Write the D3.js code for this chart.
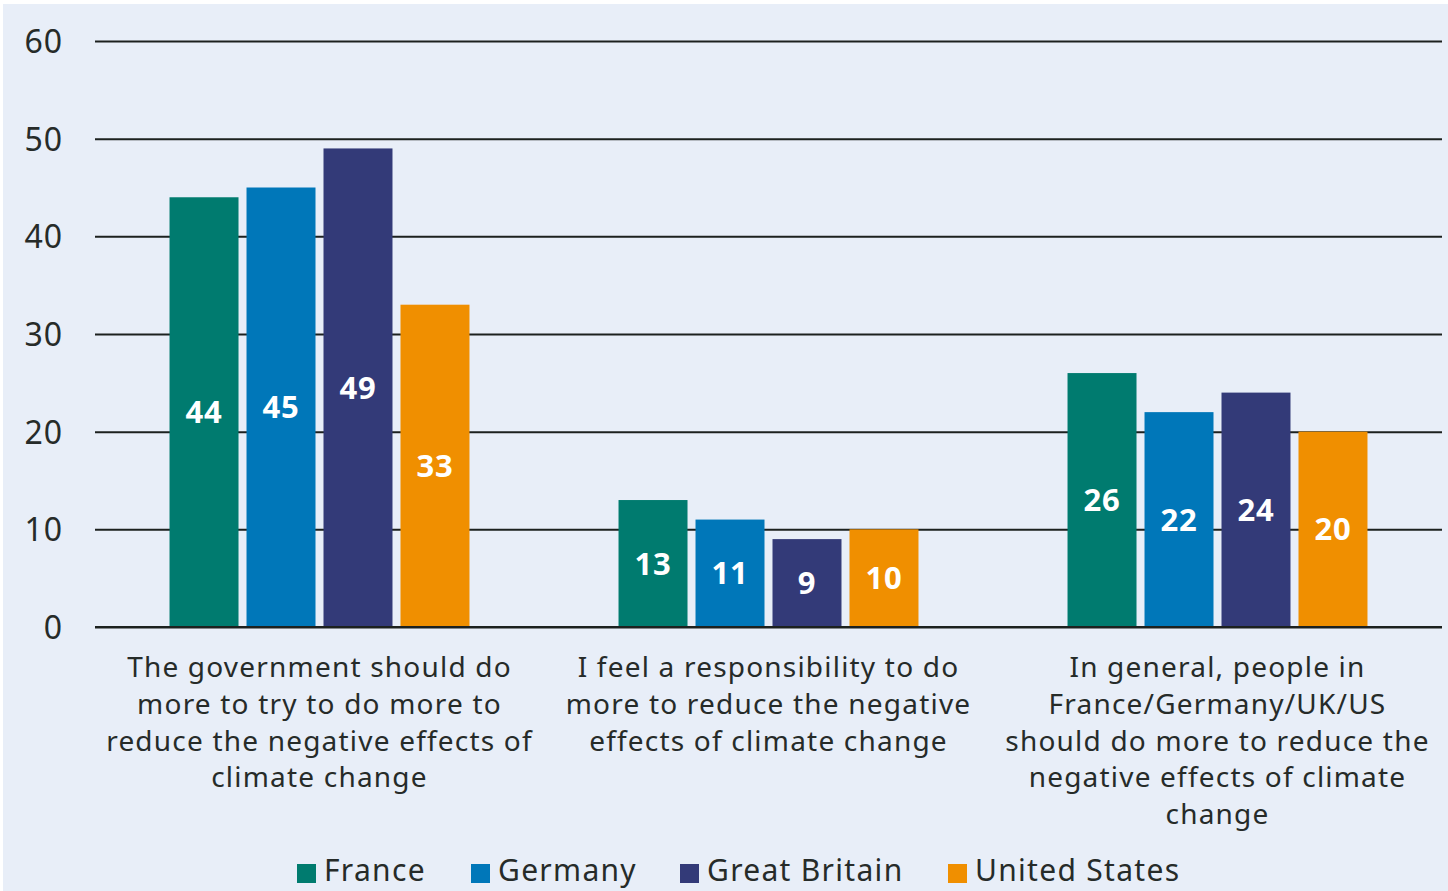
<!DOCTYPE html>
<html>
<head>
<meta charset="utf-8">
<script src="https://cdn.jsdelivr.net/npm/d3@7"></script>
<style>
  html, body { margin: 0; padding: 0; background: #ffffff; }
  svg { display: block; }
</style>
</head>
<body>
<svg id="chart" width="1448" height="891"></svg>
<script>
// Statements shown along the x axis (each entry is a list of wrapped lines)
const categories = [
  ["The government should do", "more to try to do more to", "reduce the negative effects of", "climate change"],
  ["I feel a responsibility to do", "more to reduce the negative", "effects of climate change"],
  ["In general, people in", "France/Germany/UK/US", "should do more to reduce the", "negative effects of climate", "change"]
];
const countries = ["France", "Germany", "Great Britain", "United States"];
const france       = [44, 13, 26];
const germany      = [45, 11, 22];
const greatBritain = [49, 9, 24];
const unitedStates = [33, 10, 20];
const yTicks = [0, 10, 20, 30, 40, 50, 60];
const colors = ["#007b6f", "#0077b9", "#333a78", "#f08f00"];

(function draw() {
  const seriesValues = [france, germany, greatBritain, unitedStates];
  const rows = categories.map((c, i) => ({
    idx: i,
    values: countries.map((k, j) => ({ country: k, j, value: seriesValues[j][i] }))
  }));

  const W = 1448, H = 891;
  const svg = d3.select("#chart");
  const FONT = "'Noto Sans', sans-serif";
  const INK = "#262b29";

  // panel background
  svg.append("rect").attr("x", 3).attr("y", 4).attr("width", W - 3).attr("height", H - 4)
    .attr("fill", "#e8eef8");

  const mLeft = 95, mRight = 1442, mTop = 41, mBottom = 627;

  const x0 = d3.scaleBand().domain(rows.map(r => r.idx)).range([mLeft, mRight]).padding(0);
  const x1 = d3.scaleBand().domain(d3.range(countries.length))
    .range([0, x0.bandwidth()]).paddingInner(0.104).paddingOuter(0.968);
  const y = d3.scaleLinear().domain([0, 60]).range([mBottom, mTop]);

  // gridlines and tick labels
  const yAxis = d3.axisLeft(y).tickValues(yTicks).tickSize(0).tickFormat(d3.format("d"));
  const gy = svg.append("g").attr("transform", `translate(${mLeft},0)`).call(yAxis);
  gy.select(".domain").remove();
  gy.selectAll(".tick line").attr("stroke", "#1c211f").attr("stroke-width", 2)
    .attr("x1", 0).attr("x2", mRight - mLeft);
  gy.selectAll(".tick text").attr("font-family", FONT).attr("font-size", 32)
    .attr("letter-spacing", 1)
    .attr("fill", INK).attr("x", -32).attr("dy", "0.36em");

  // grouped bars
  const groups = svg.append("g").selectAll("g").data(rows).join("g")
    .attr("transform", d => `translate(${x0(d.idx)},0)`);

  groups.selectAll("rect").data(d => d.values).join("rect")
    .attr("x", d => x1(d.j))
    .attr("y", d => y(d.value))
    .attr("width", x1.bandwidth())
    .attr("height", d => y(0) - y(d.value))
    .attr("fill", d => colors[d.j]);

  groups.selectAll("text.val").data(d => d.values).join("text")
    .attr("class", "val")
    .attr("x", d => x1(d.j) + x1.bandwidth() / 2)
    .attr("y", d => (y(d.value) + y(0)) / 2)
    .attr("dy", "0.36em")
    .attr("text-anchor", "middle")
    .attr("font-family", FONT).attr("font-weight", 700).attr("font-size", 31)
    .attr("letter-spacing", 0.8)
    .attr("fill", "#ffffff")
    .text(d => d.value);

  // baseline drawn over the bars
  svg.append("line").attr("x1", mLeft).attr("x2", mRight).attr("y1", y(0)).attr("y2", y(0))
    .attr("stroke", "#1c211f").attr("stroke-width", 2);

  // category labels
  const catG = svg.append("g");
  rows.forEach(r => {
    const cx = x0(r.idx) + x0.bandwidth() / 2;
    const t = catG.append("text")
      .attr("text-anchor", "middle")
      .attr("font-family", FONT).attr("font-size", 28).attr("letter-spacing", 1.2)
      .attr("fill", INK);
    categories[r.idx].forEach((line, k) => {
      t.append("tspan").attr("x", cx).attr("y", 677 + k * 36.8).text(line);
    });
  });

  // legend
  const legendX = [297, 471, 680, 948];
  const lg = svg.append("g");
  countries.forEach((c, j) => {
    lg.append("rect").attr("x", legendX[j]).attr("y", 864).attr("width", 19).attr("height", 19)
      .attr("fill", colors[j]);
    lg.append("text").attr("x", legendX[j] + 27).attr("y", 881)
      .attr("font-family", FONT).attr("font-size", 30).attr("letter-spacing", 1.3)
      .attr("fill", INK).text(c);
  });
})();
</script>
</body>
</html>
